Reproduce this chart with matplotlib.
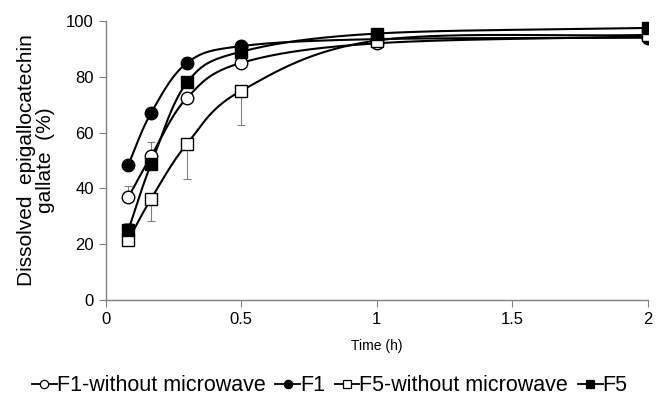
import matplotlib.pyplot as plt
import numpy as np

plt.rcParams['font.family'] = ['Liberation Sans', 'DejaVu Sans']

# 時間 (h)
time_h = [0.083, 0.167, 0.3, 0.5, 1, 2]

# 溶出率 (%)
f1_wo = [36.8, 51.5, 72.5, 85, 92, 94.5]
f1 = [48.5, 67, 85, 91, 93.5, 94]
f5_wo = [21.5, 36.2, 56, 75, 93, 95]
f5 = [25, 48.7, 78, 89, 95.5, 97.5]

# 誤差 (下, 上)
f1_wo_err = [[0, 0, 0, 0, 0, 0], [4.2, 5, 0, 0, 0, 0]]
f1_err = [[0, 0, 0, 0, 0, 0], [0, 0, 0, 0, 0, 0]]
f5_wo_err = [[0, 8, 12.6, 12.3, 0, 0], [0, 0, 0, 0, 0, 0]]
f5_err = [[0, 0, 0, 0, 0, 0], [2.5, 0, 0, 0, 0, 0]]

labels = ['F1-without microwave', 'F1', 'F5-without microwave', 'F5']


def smooth(x, y, n=40):
    # Excel風のスムージング (Catmull-Rom)
    x = np.asarray(x, float)
    y = np.asarray(y, float)
    px = np.concatenate([[2 * x[0] - x[1]], x, [2 * x[-1] - x[-2]]])
    py = np.concatenate([[2 * y[0] - y[1]], y, [2 * y[-1] - y[-2]]])
    xs, ys = [], []
    t = np.linspace(0, 1, n)
    for i in range(1, len(px) - 2):
        p0, p1, p2, p3 = [np.array([px[j], py[j]]) for j in range(i - 1, i + 3)]
        c1 = p1 + (p2 - p0) / 6
        c2 = p2 - (p3 - p1) / 6
        pts = ((1 - t) ** 3)[:, None] * p1 + (3 * (1 - t) ** 2 * t)[:, None] * c1 \
            + (3 * (1 - t) * t ** 2)[:, None] * c2 + (t ** 3)[:, None] * p2
        xs.extend(pts[:, 0])
        ys.extend(pts[:, 1])
    return xs, ys


fig = plt.figure(figsize=(6.57, 3.96), dpi=100)
ax = fig.add_axes([0.161, 0.2424, 0.825, 0.7046])

series = [
    (f1_wo, f1_wo_err, 'o', 'white'),
    (f1, f1_err, 'o', 'black'),
    (f5_wo, f5_wo_err, 's', 'white'),
    (f5, f5_err, 's', 'black'),
]
handles = []
for (vals, err, mk, fc), lab in zip(series, labels):
    ax.errorbar(time_h, vals, yerr=err, fmt='none', ecolor='#808080',
                elinewidth=0.8, capsize=3, capthick=0.8, zorder=1)
    sx, sy = smooth(time_h, vals)
    ax.plot(sx, sy, color='black', lw=1.5, zorder=2)
    ax.plot(time_h, vals, ls='none', marker=mk, ms=9, mfc=fc, mec='black',
            mew=1, zorder=3)
    h, = ax.plot([], [], color='black', lw=1.3, marker=mk, ms=6, mfc=fc,
                 mec='black', mew=0.9, label=lab)
    handles.append(h)

ax.set_xlim(0, 2)
ax.set_ylim(0, 100)
ax.set_xticks([0, 0.5, 1, 1.5, 2])
ax.set_xticklabels(['0', '0.5', '1', '1.5', '2'])
ax.set_yticks(range(0, 101, 20))
for s in ['top', 'right']:
    ax.spines[s].set_visible(False)
for s in ['left', 'bottom']:
    ax.spines[s].set_color('#808080')
    ax.spines[s].set_linewidth(1)
ax.tick_params(direction='out', length=5, color='#808080', labelsize=12)
ax.set_xlabel('Time (h)', fontsize=10, labelpad=9)
ax.set_ylabel('Dissolved  epigallocatechin\ngallate  (%)', fontsize=15,
              labelpad=8, linespacing=1.0)

fig.legend(handles=handles, loc='lower center', bbox_to_anchor=(0.502, -0.05),
           ncol=4, frameon=False, fontsize=15.5, handlelength=1.15,
           handletextpad=0.0, columnspacing=0.45)

fig.savefig('out.png', dpi=100)
